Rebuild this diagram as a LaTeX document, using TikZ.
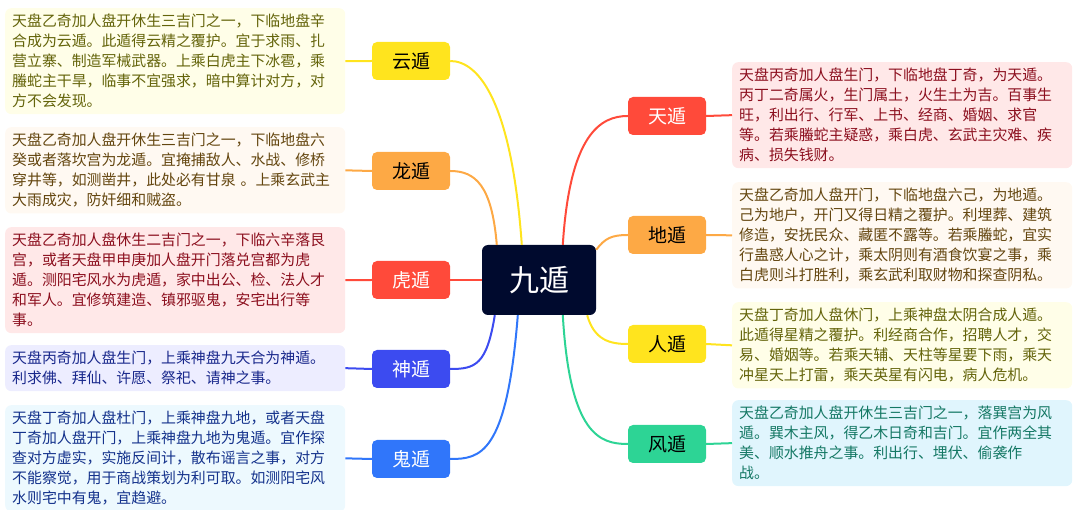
\documentclass[tikz,border=0pt]{standalone}
\usepackage{fontspec}
\setmainfont{Noto Sans CJK SC}
\usetikzlibrary{calc}
\definecolor{cY}{HTML}{FFE41E}
\definecolor{cO}{HTML}{FDA945}
\definecolor{cR}{HTML}{FF4A3A}
\definecolor{cB}{HTML}{3C4BF0}
\definecolor{cL}{HTML}{3076FA}
\definecolor{cG}{HTML}{2DD495}
\definecolor{cN}{HTML}{000A2E}
\tikzset{
 tb/.style={rounded corners=6pt, text width=326pt, inner xsep=7pt, inner ysep=6pt, align=left, font=\fontsize{14.9pt}{20pt}\selectfont, anchor=north west},
 lb/.style={rounded corners=5pt, minimum width=78pt, minimum height=38pt, font=\fontsize{19pt}{22pt}\selectfont, inner sep=0pt},
 ln/.style={line width=2pt}
}
\begin{document}
\begin{tikzpicture}[x=1pt,y=-1pt]
\useasboundingbox (0,0) rectangle (1080,510);
\node[fill=cN, rounded corners=6pt, minimum width=114pt, minimum height=70pt, text=white, font=\fontsize{30pt}{34pt}\selectfont, inner sep=0pt] (c) at (539,280) {九遁};
% left labels
\node[lb, fill=cY] (yun) at (411,61) {云遁};
\node[lb, fill=cO] (long) at (411,171) {龙遁};
\node[lb, fill=cR, text=white] (hu) at (411,280) {虎遁};
\node[lb, fill=cB, text=white] (shen) at (411,369) {神遁};
\node[lb, fill=cL, text=white] (gui) at (411,459) {鬼遁};
% right labels
\node[lb, fill=cR, text=white] (tian) at (667,116) {天遁};
\node[lb, fill=cO] (di) at (667,235) {地遁};
\node[lb, fill=cY] (ren) at (667,344) {人遁};
\node[lb, fill=cG] (feng) at (667,444) {风遁};
% text boxes left
\node[tb, fill=yellow!9, text={rgb,255:red,100;green,100;blue,10}] (tyun) at (5,8) {天盘乙奇加人盘开休生三吉门之一，下临地盘辛\\合成为云遁。此遁得云精之覆护。宜于求雨、扎\\营立寨、制造军械武器。上乘白虎主下冰雹，乘\\螣蛇主干旱，临事不宜强求，暗中算计对方，对\\方不会发现。};
\node[tb, fill=orange!5, text={rgb,255:red,100;green,70;blue,15}] (tlong) at (5,127) {天盘乙奇加人盘开休生三吉门之一，下临地盘六\\癸或者落坎宫为龙遁。宜掩捕敌人、水战、修桥\\穿井等，如测凿井，此处必有甘泉 。上乘玄武主\\大雨成灾，防奸细和贼盗。};
\node[tb, fill=red!9, text={rgb,255:red,140;green,15;blue,30}] (thu) at (5,227) {天盘乙奇加人盘休生二吉门之一，下临六辛落艮\\宫，或者天盘甲申庚加人盘开门落兑宫都为虎\\遁。测阳宅风水为虎遁，家中出公、检、法人才\\和军人。宜修筑建造、镇邪驱鬼，安宅出行等\\事。};
\node[tb, fill=blue!7, text={rgb,255:red,25;green,40;blue,140}] (tshen) at (5,345) {天盘丙奇加人盘生门，上乘神盘九天合为神遁。\\利求佛、拜仙、许愿、祭祀、请神之事。};
\node[tb, fill=cyan!7, text={rgb,255:red,20;green,50;blue,140}] (tgui) at (5,405) {天盘丁奇加人盘杜门，上乘神盘九地，或者天盘\\丁奇加人盘开门，上乘神盘九地为鬼遁。宜作探\\查对方虚实，实施反间计，散布谣言之事，对方\\不能察觉，用于商战策划为利可取。如测阳宅风\\水则宅中有鬼，宜趋避。};
% text boxes right
\node[tb, fill=red!9, text={rgb,255:red,140;green,15;blue,30}] (ttian) at (732,62) {天盘丙奇加人盘生门，下临地盘丁奇，为天遁。\\丙丁二奇属火，生门属土，火生土为吉。百事生\\旺，利出行、行军、上书、经商、婚姻、求官\\等。若乘螣蛇主疑惑，乘白虎、玄武主灾难、疾\\病、损失钱财。};
\node[tb, fill=orange!5, text={rgb,255:red,100;green,70;blue,15}] (tdi) at (732,182) {天盘乙奇加人盘开门，下临地盘六己，为地遁。\\己为地户，开门又得日精之覆护。利埋葬、建筑\\修造，安抚民众、藏匿不露等。若乘螣蛇，宜实\\行蛊惑人心之计，乘太阴则有酒食饮宴之事，乘\\白虎则斗打胜利，乘玄武利取财物和探查阴私。};
\node[tb, fill=yellow!9, text={rgb,255:red,100;green,100;blue,10}] (tren) at (732,302) {天盘丁奇加人盘休门，上乘神盘太阴合成人遁。\\此遁得星精之覆护。利经商合作，招聘人才，交\\易、婚姻等。若乘天辅、天柱等星要下雨，乘天\\冲星天上打雷，乘天英星有闪电，病人危机。};
\node[tb, fill=cyan!12, text={rgb,255:red,20;green,120;blue,100}] (tfeng) at (732,400) {天盘乙奇加人盘开休生三吉门之一，落巽宫为风\\遁。巽木主风，得乙木日奇和吉门。宜作两全其\\美、顺水推舟之事。利出行、埋伏、偷袭作\\战。};
% short connectors
\draw[ln, cY] (tyun.east) -- (yun.west);
\draw[ln, cO] (tlong.east) -- (long.west);
\draw[ln, cR] (thu.east) -- (hu.west);
\draw[ln, cB] (tshen.east) -- (shen.west);
\draw[ln, cL] (tgui.east) -- (gui.west);
\draw[ln, cR] (tian.east) -- (ttian.west);
\draw[ln, cO] (di.east) -- (tdi.west);
\draw[ln, cY] (ren.east) -- (tren.west);
\draw[ln, cG] (feng.east) -- (tfeng.west);
% curves
\draw[ln, cY] ($(c.north west)+(40,0)$) .. controls ($(c.north west)+(30,-140)$) and (480,61) .. (yun.east);
\draw[ln, cO] ($(c.north west)+(15,0)$) .. controls ($(c.north west)+(10,-60)$) and (475,171) .. (long.east);
\draw[ln, cR] (c.west |- hu.east) -- (hu.east);
\draw[ln, cB] ($(c.south west)+(13,0)$) .. controls ($(c.south west)+(5,50)$) and (475,369) .. (shen.east);
\draw[ln, cL] ($(c.south west)+(36,0)$) .. controls ($(c.south west)+(25,140)$) and (480,459) .. (gui.east);
\draw[ln, cR] ($(c.north west)+(81,0)$) .. controls ($(c.north west)+(88,-110)$) and (600,116) .. (tian.west);
\draw[ln, cO] ($(c.north east)+(0,5)$) .. controls (605,238) and (612,235) .. (di.west);
\draw[ln, cY] ($(c.south east)+(-9,0)$) .. controls ($(c.south east)+(-2,25)$) and (610,344) .. (ren.west);
\draw[ln, cG] ($(c.south west)+(81,0)$) .. controls ($(c.south west)+(88,120)$) and (600,444) .. (feng.west);
\end{tikzpicture}
\end{document}
